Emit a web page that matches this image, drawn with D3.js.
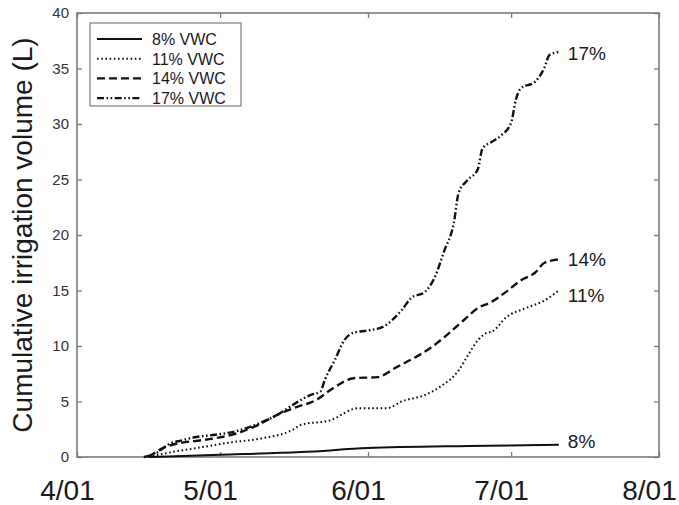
<!DOCTYPE html>
<html lang="en">
<head>
<meta charset="utf-8" />
<title>Cumulative irrigation volume</title>
<script src="https://d3js.org/d3.v7.min.js"></script>
<style>
  body { margin: 0; background: #fff; }
  text { font-family: "Liberation Sans", Arial, sans-serif; }
</style>
</head>
<body>
<div id="chart"></div>
<script>
// series (date as month/day, cumulative litres)
var seriesNames = ["8% VWC", "11% VWC", "14% VWC", "17% VWC"];
var endLabels = ["8%", "11%", "14%", "17%"];

var vwc8 = [
  ["4/16", 0], ["5/01", 0.2], ["5/18", 0.45], ["6/01", 0.8], ["6/22", 1.0], ["7/11", 1.1]
];
var vwc11 = [
  ["4/16", 0], ["4/21", 0.45], ["4/26", 0.8], ["5/03", 1.3], ["5/10", 1.7], ["5/16", 2.4],
  ["5/18", 2.9], ["5/24", 3.3], ["5/30", 4.4], ["6/05", 4.4], ["6/08", 5.0], ["6/13", 5.6],
  ["6/16", 6.3], ["6/20", 7.8], ["6/22", 9.2], ["6/24", 10.5], ["6/26", 11.2], ["6/27", 11.3],
  ["6/30", 12.6], ["7/04", 13.4], ["7/08", 14.1], ["7/11", 15.0]
];
var vwc14 = [
  ["4/16", 0], ["4/19", 0.8], ["4/23", 1.3], ["4/26", 1.45], ["4/30", 1.7], ["5/05", 2.2],
  ["5/09", 2.9], ["5/13", 3.8], ["5/17", 4.5], ["5/21", 5.1], ["5/25", 6.3], ["5/29", 7.1],
  ["6/03", 7.2], ["6/07", 8.1], ["6/11", 9.0], ["6/14", 9.8], ["6/17", 10.8], ["6/21", 12.3],
  ["6/24", 13.4], ["6/27", 14.0], ["6/30", 14.9], ["7/03", 15.9], ["7/06", 16.6], ["7/08", 17.5],
  ["7/11", 17.8]
];
var vwc17 = [
  ["4/15", 0], ["4/18", 0.45], ["4/20", 1.1], ["4/23", 1.5], ["4/26", 1.8], ["4/30", 2.0],
  ["5/05", 2.4], ["5/09", 3.0], ["5/13", 3.8], ["5/17", 4.9], ["5/20", 5.6], ["5/22", 5.9],
  ["5/23", 7.0], ["5/25", 8.7], ["5/27", 10.5], ["5/29", 11.2], ["6/01", 11.4], ["6/04", 11.7],
  ["6/08", 13.2], ["6/10", 14.3], ["6/13", 14.9], ["6/15", 16.2], ["6/17", 18.6], ["6/19", 21.1],
  ["6/20", 23.8], ["6/22", 25.0], ["6/24", 25.9], ["6/25", 27.8], ["6/27", 28.4], ["6/29", 29.0],
  ["7/01", 30.1], ["7/02", 32.2], ["7/03", 33.2], ["7/06", 33.8], ["7/08", 35.1], ["7/09", 36.2],
  ["7/11", 36.5]
];
var xTicks = ["4/01", "5/01", "6/01", "7/01", "8/01"];
var yTicks = [0, 5, 10, 15, 20, 25, 30, 35, 40];

var allSeries = [vwc8, vwc11, vwc14, vwc17];

// styling per series
var dashes = ["none", "1.6,2.6", "8,4", "7,2.5,1.6,2.5,1.6,2.5"];
var widths = [2, 2, 2.4, 2.4];
var labelNudge = [3, 11, 7, 8];

var W = 679, H = 505;
var parse = d3.timeParse("%m/%d/%Y");
function toDate(s) { return parse(s + "/2009"); }

var svg = d3.select("#chart").append("svg")
  .attr("width", W).attr("height", H);

var x = d3.scaleTime()
  .domain([toDate(xTicks[0]), toDate(xTicks[xTicks.length - 1])])
  .range([77, 659]);
var y = d3.scaleLinear().domain([0, 40]).range([457, 13]);

var frameColor = "#7a7a7a";

// axes with inward ticks
var fmt = d3.timeFormat("%-m/%d");
var gx = svg.append("g").attr("transform", "translate(0," + y(0) + ")")
  .call(d3.axisBottom(x).tickValues(xTicks.map(toDate)).tickFormat(fmt)
    .tickSizeInner(-5).tickSizeOuter(0));
gx.selectAll("text")
  .attr("y", 43).attr("dy", null).attr("dx", -10)
  .style("font-size", "28px").attr("fill", "#1a1a1a");

svg.append("g").attr("transform", "translate(0," + y(40) + ")")
  .call(d3.axisTop(x).tickValues(xTicks.map(toDate)).tickFormat("")
    .tickSizeInner(-5).tickSizeOuter(0));

var gy = svg.append("g").attr("transform", "translate(" + x.range()[0] + ",0)")
  .call(d3.axisLeft(y).tickValues(yTicks).tickSizeInner(-5).tickSizeOuter(0).tickPadding(8));
gy.selectAll("text").style("font-size", "15px").attr("fill", "#333");

svg.append("g").attr("transform", "translate(" + x.range()[1] + ",0)")
  .call(d3.axisRight(y).tickValues(yTicks).tickFormat("").tickSizeInner(-5).tickSizeOuter(0));

svg.selectAll(".domain").remove();
svg.selectAll(".tick line").attr("stroke", frameColor).attr("stroke-width", 1.3);

svg.append("rect")
  .attr("x", x.range()[0]).attr("y", y(40))
  .attr("width", x.range()[1] - x.range()[0]).attr("height", y(0) - y(40))
  .attr("fill", "none").attr("stroke", frameColor).attr("stroke-width", 1.6);

// y title
svg.append("text")
  .attr("transform", "translate(32," + (y(0) + y(40)) / 2 + ") rotate(-90)")
  .attr("text-anchor", "middle")
  .style("font-size", "28px")
  .attr("fill", "#1a1a1a")
  .text("Cumulative irrigation volume (L)");

// lines
var line = d3.line()
  .x(function (d) { return x(toDate(d[0])); })
  .y(function (d) { return y(d[1]); })
  .curve(d3.curveMonotoneX);

allSeries.forEach(function (s, i) {
  svg.append("path")
    .datum(s)
    .attr("d", line)
    .attr("fill", "none")
    .attr("stroke", "#111")
    .attr("stroke-width", widths[i])
    .attr("stroke-dasharray", dashes[i]);

  var last = s[s.length - 1];
  svg.append("text")
    .attr("x", x(toDate(last[0])) + 9)
    .attr("y", y(last[1]) + labelNudge[i])
    .style("font-size", "19px")
    .attr("fill", "#1a1a1a")
    .text(endLabels[i]);
});

// legend
var legend = svg.append("g");
legend.append("rect")
  .attr("x", 90).attr("y", 23).attr("width", 151).attr("height", 83)
  .attr("fill", "#fff").attr("stroke", frameColor).attr("stroke-width", 1.2);

seriesNames.forEach(function (name, i) {
  var ly = 39 + i * 19.7;
  legend.append("line")
    .attr("x1", 97).attr("x2", 142).attr("y1", ly).attr("y2", ly)
    .attr("stroke", "#111")
    .attr("stroke-width", widths[i])
    .attr("stroke-dasharray", dashes[i]);
  legend.append("text")
    .attr("x", 152).attr("y", ly + 6)
    .style("font-size", "16px")
    .attr("fill", "#1a1a1a")
    .text(name);
});
</script>
</body>
</html>
